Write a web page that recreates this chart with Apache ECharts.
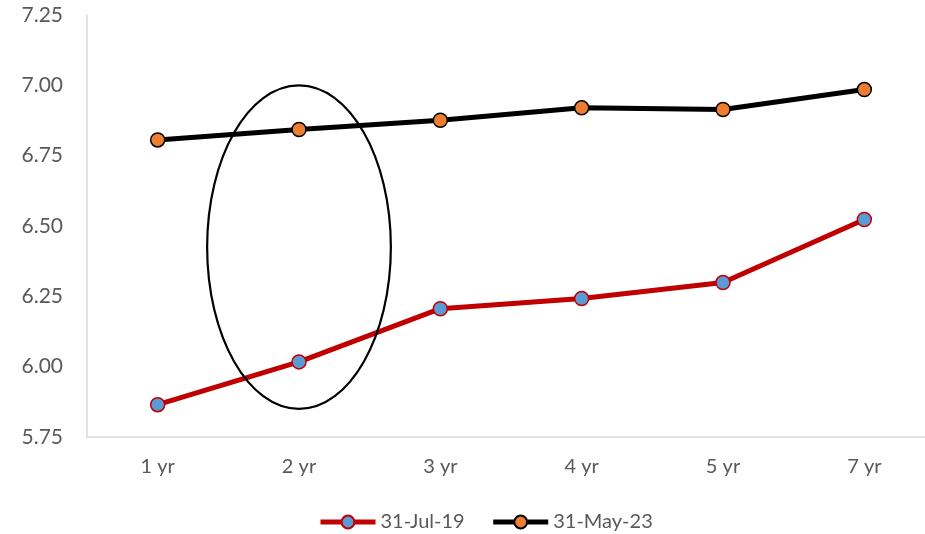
<!DOCTYPE html>
<html>
<head>
<meta charset="utf-8">
<script src="https://cdn.jsdelivr.net/npm/echarts@6/dist/echarts.min.js"></script>
<style>
  html, body { margin: 0; padding: 0; background: #fff; overflow: hidden; }
  /* plot runs a little past the right edge, as in the source picture */
  #chart { width: 935px; height: 534px; }
</style>
</head>
<body>
<div id="chart"></div>
<script>
const categories = ['1 yr', '2 yr', '3 yr', '4 yr', '5 yr', '7 yr']
const jul19 = [5.865, 6.017, 6.206, 6.242, 6.299, 6.523]
const may23 = [6.806, 6.843, 6.876, 6.920, 6.914, 6.985]
const seriesNames = ['31-Jul-19', '31-May-23']
// ellipse around 2 yr: centre value and half-height in axis units
const ringCentre = ['2 yr', 6.425]
const ringHalfValue = 0.575

const labelFont = 'Lato, "Liberation Sans", sans-serif'

const chart = echarts.init(document.getElementById('chart'))

chart.setOption({
  animation: false,
  grid: { left: 87, right: 0, top: 15, bottom: 97 },
  legend: {
    top: 507,
    left: 313,
    itemWidth: 55,
    itemHeight: 16,
    itemGap: 26,
    lineStyle: { width: 5 },
    textStyle: { fontFamily: labelFont, fontSize: 20, color: '#595959' },
    data: seriesNames
  },
  xAxis: {
    type: 'category',
    data: categories,
    boundaryGap: true,
    axisLine: { lineStyle: { color: '#D9D9D9', width: 1.5 } },
    axisTick: { show: false },
    axisLabel: { fontFamily: labelFont, fontSize: 20, color: '#595959', margin: 20 }
  },
  yAxis: {
    type: 'value',
    min: 5.75,
    max: 7.25,
    interval: 0.25,
    axisLine: { show: true, lineStyle: { color: '#D9D9D9', width: 1.5 } },
    axisTick: { show: false },
    splitLine: { show: false },
    axisLabel: {
      fontFamily: labelFont, fontSize: 21, color: '#595959', margin: 24,
      formatter: v => v.toFixed(2)
    }
  },
  series: [
    {
      name: seriesNames[0],
      type: 'line',
      data: jul19,
      symbol: 'circle',
      symbolSize: 14,
      lineStyle: { color: '#C00000', width: 5 },
      itemStyle: { color: '#5B9BD5', borderColor: '#C00000', borderWidth: 1.5 }
    },
    {
      name: seriesNames[1],
      type: 'line',
      data: may23,
      symbol: 'circle',
      symbolSize: 14,
      lineStyle: { color: '#000000', width: 5 },
      itemStyle: { color: '#ED7D31', borderColor: '#000000', borderWidth: 1.5 }
    }
  ]
})

// place the ellipse from axis values
const ringMid = chart.convertToPixel({ gridIndex: 0 }, ringCentre)
const ringTop = chart.convertToPixel({ gridIndex: 0 }, [ringCentre[0], ringCentre[1] + ringHalfValue])
const ringNext = chart.convertToPixel({ gridIndex: 0 }, ['3 yr', ringCentre[1]])
chart.setOption({
  graphic: [{
    type: 'ellipse',
    shape: {
      cx: ringMid[0],
      cy: ringMid[1],
      rx: (ringNext[0] - ringMid[0]) * 0.65,
      ry: ringMid[1] - ringTop[1]
    },
    style: { fill: 'none', stroke: '#000', lineWidth: 2.2 },
    z: 10
  }]
})
</script>
</body>
</html>
